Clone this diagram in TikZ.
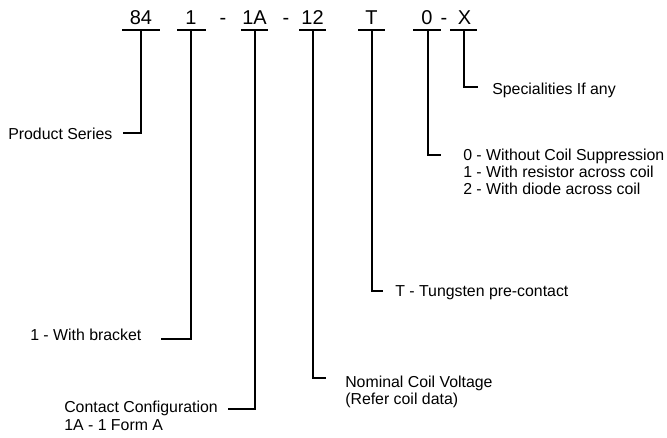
\documentclass[tikz,border=0pt]{standalone}
\usepackage{fontspec}
\setmainfont{Liberation Sans}
\begin{document}
\begin{tikzpicture}[x=0.75pt,y=-0.75pt]
\tikzset{
  codetxt/.style={font=\fontsize{15}{18}\selectfont, inner sep=0pt, anchor=base},
  desc/.style={font=\fontsize{11.9}{14}\selectfont, inner sep=0pt, anchor=base west},
  lead/.style={line width=2.1pt, line join=miter},
  bar/.style={line width=2.1pt},
}
\useasboundingbox (0,0) rectangle (667,437);
% code characters
\node[codetxt] (n84) at (141,24) {84};
\node[codetxt] (n1)  at (191,24) {1};
\node[codetxt] (d1)  at (223,24) {-};
\node[codetxt] (n1A) at (254.5,24) {1A};
\node[codetxt] (d2)  at (286,24) {-};
\node[codetxt] (n12) at (312.5,24) {12};
\node[codetxt] (nT)  at (371.5,24) {T};
\node[codetxt] (n0)  at (427,24) {0};
\node[codetxt] (d3)  at (444,24) {-};
\node[codetxt] (nX)  at (464.5,24) {X};
% bars
\coordinate (a84) at (122,30); \coordinate (z84) at (160,30);
\coordinate (a1)  at (177,30); \coordinate (z1)  at (206,30);
\coordinate (a1A) at (241,30); \coordinate (z1A) at (268,30);
\coordinate (a12) at (299,30); \coordinate (z12) at (326,30);
\coordinate (aT)  at (358,30); \coordinate (zT)  at (385,30);
\coordinate (a0)  at (413,30); \coordinate (z0)  at (441,30);
\coordinate (aX)  at (450,30); \coordinate (zX)  at (477,30);
\draw[bar] (a84) -- (z84);
\draw[bar] (a1) -- (z1);
\draw[bar] (a1A) -- (z1A);
\draw[bar] (a12) -- (z12);
\draw[bar] (aT) -- (zT);
\draw[bar] (a0) -- (z0);
\draw[bar] (aX) -- (zX);
% descriptions
\node[desc] (ps) at (8,139) {Product Series};
\node[desc] (wb) at (30,340) {1 - With bracket};
\node[desc] (cc1) at (64,412) {Contact Configuration};
\node[desc] (cc2) at (64,430) {1A - 1 Form A};
\node[desc] (nv1) at (345,387) {Nominal Coil Voltage};
\node[desc] (nv2) at (345,404) {(Refer coil data)};
\node[desc] (tt) at (395,296) {T - Tungsten pre-contact};
\node[desc] (cs0) at (463,160) {0 - Without Coil Suppression};
\node[desc] (cs1) at (463,177) {1 - With resistor across coil};
\node[desc] (cs2) at (463,194) {2 - With diode across coil};
\node[desc] (sp) at (492,94) {Specialities If any};
% leader lines
\coordinate (k84) at (141,30); \coordinate (e84) at (123,133);
\coordinate (k1)  at (191,30); \coordinate (e1)  at (161,339);
\coordinate (k1A) at (255,30); \coordinate (e1A) at (228,409);
\coordinate (k12) at (313,30); \coordinate (e12) at (326,378);
\coordinate (kT)  at (372,30); \coordinate (eT)  at (383,291);
\coordinate (k0)  at (428,30); \coordinate (e0)  at (441,155);
\coordinate (kX)  at (464,30); \coordinate (eX)  at (478,87);
\draw[lead] (k84) |- (e84);
\draw[lead] (k1) |- (e1);
\draw[lead] (k1A) |- (e1A);
\draw[lead] (k12) |- (e12);
\draw[lead] (kT) |- (eT);
\draw[lead] (k0) |- (e0);
\draw[lead] (kX) |- (eX);
\end{tikzpicture}
\end{document}
